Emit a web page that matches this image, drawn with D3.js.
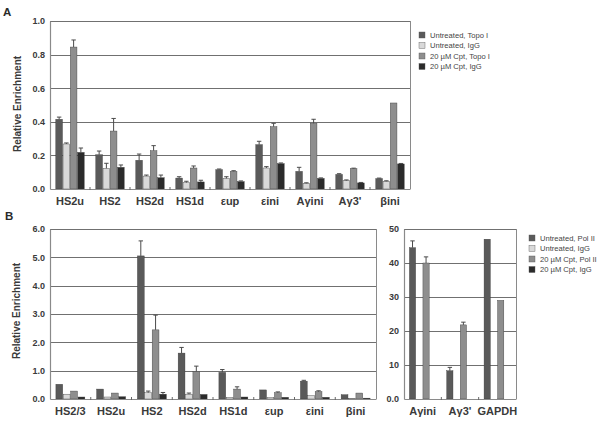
<!DOCTYPE html>
<html>
<head>
<meta charset="utf-8">
<script src="https://cdn.jsdelivr.net/npm/d3@7"></script>
<style>
  html, body { margin: 0; padding: 0; background: #fff; }
  svg { display: block; font-family: Arial, "Liberation Sans", sans-serif; }
</style>
</head>
<body>
<svg id="chart" width="600" height="425"></svg>
<script>
// ---------------- DATA ----------------
// Panel A
const categoriesA = ["HS2u", "HS2", "HS2d", "HS1d", "\u03b5up", "\u03b5ini", "A\u03b3ini", "A\u03b33'", "\u03b2ini"];
const seriesNamesA = ["Untreated, Topo I", "Untreated, IgG", "20 \u00b5M Cpt, Topo I", "20 \u00b5M Cpt, IgG"];
const untreatedTopoA = [0.415, 0.204, 0.171, 0.065, 0.115, 0.264, 0.105, 0.087, 0.062];
const untreatedIgGA  = [0.268, 0.123, 0.077, 0.038, 0.063, 0.125, 0.034, 0.050, 0.046];
const cptTopoA       = [0.845, 0.345, 0.228, 0.125, 0.105, 0.371, 0.391, 0.121, 0.512];
const cptIgGA        = [0.218, 0.129, 0.067, 0.042, 0.044, 0.151, 0.063, 0.036, 0.149];
const untreatedTopoErrA = [0.013, 0.022, 0.037, 0.008, 0.004, 0.020, 0.024, 0.004, 0.003];
const untreatedIgGErrA  = [0.006, 0.030, 0.006, 0.008, 0.010, 0.008, 0.003, 0.004, 0.003];
const cptTopoErrA       = [0.042, 0.075, 0.030, 0.012, 0.004, 0.020, 0.024, 0.003, 0.000];
const cptIgGErrA        = [0.026, 0.014, 0.016, 0.010, 0.004, 0.004, 0.003, 0.003, 0.003];
const yTicksA = [0, 0.2, 0.4, 0.6, 0.8, 1.0];

// Panel B (left)
const categoriesB = ["HS2/3", "HS2u", "HS2", "HS2d", "HS1d", "\u03b5up", "\u03b5ini", "\u03b2ini"];
const seriesNamesB = ["Untreated, Pol II", "Untreated, IgG", "20 \u00b5M Cpt, Pol II", "20 \u00b5M Cpt, IgG"];
const untreatedPolB = [0.52, 0.35, 5.05, 1.62, 0.94, 0.32, 0.63, 0.15];
const untreatedIgGB = [0.17, 0.07, 0.22, 0.17, 0.06, 0.05, 0.12, 0.02];
const cptPolB       = [0.28, 0.21, 2.44, 0.97, 0.35, 0.22, 0.26, 0.21];
const cptIgGB       = [0.07, 0.08, 0.17, 0.16, 0.07, 0.06, 0.06, 0.03];
const untreatedPolErrB = [0, 0, 0.53, 0.20, 0.10, 0, 0.03, 0];
const untreatedIgGErrB = [0, 0, 0.06, 0.04, 0, 0, 0, 0];
const cptPolErrB       = [0, 0, 0.52, 0.19, 0.08, 0.03, 0.03, 0];
const cptIgGErrB       = [0, 0, 0.06, 0, 0, 0, 0, 0];
const yTicksB = [0, 1, 2, 3, 4, 5, 6];

// Panel B (right)
const categoriesC = ["A\u03b3ini", "A\u03b33'", "GAPDH"];
const untreatedPolC = [44.5, 8.3, 47];
const untreatedIgGC = [0, 0, 0];
const cptPolC       = [40.0, 21.8, 29];
const cptIgGC       = [0, 0, 0];
const untreatedPolErrC = [2.0, 1.0, 0];
const untreatedIgGErrC = [0, 0, 0];
const cptPolErrC       = [1.8, 0.8, 0];
const cptIgGErrC       = [0, 0, 0];
const yTicksC = [0, 10, 20, 30, 40, 50];

const seriesColors = ["#5a5a5a", "#d9d9d9", "#8e8e8e", "#2b2b2b"];
const seriesKeys = ["s0", "s1", "s2", "s3"];

// ---------------- DRAWING ----------------
const svg = d3.select("#chart");

function buildRows(cats, vals, errs) {
  return cats.map((c, i) => ({
    cat: c,
    bars: seriesKeys.map((k, j) => ({ key: k, idx: j, v: vals[j][i], e: errs[j][i] }))
  }));
}

function drawPanel(opt) {
  const g = svg.append("g");
  const x = d3.scaleBand().domain(opt.cats).range([opt.x0, opt.x1]).paddingInner(0).paddingOuter(0);
  const bw = x.bandwidth();
  const pad = bw * 0.145;
  const xi = d3.scaleBand().domain(seriesKeys).range([pad, bw - pad]).paddingInner(0.08).paddingOuter(0);
  const y = d3.scaleLinear().domain(opt.domain).range([opt.y1, opt.y0]);

  // grid lines
  g.append("g").selectAll("line").data(opt.ticks.filter(t => t > opt.domain[0]))
    .join("line")
    .attr("x1", opt.x0).attr("x2", opt.x1)
    .attr("y1", d => Math.round(y(d)) + 0.5).attr("y2", d => Math.round(y(d)) + 0.5)
    .attr("stroke", "#707070").attr("stroke-width", 1.2);

  // right border
  g.append("line")
    .attr("x1", opt.x1 + 0.5).attr("x2", opt.x1 + 0.5)
    .attr("y1", y(opt.domain[1])).attr("y2", y(opt.domain[0]))
    .attr("stroke", "#8a8a8a").attr("stroke-width", 1);

  const rows = buildRows(opt.cats, opt.vals, opt.errs);
  const groups = g.append("g").selectAll("g").data(rows).join("g")
    .attr("transform", d => `translate(${x(d.cat)},0)`);

  groups.selectAll("rect").data(d => d.bars.filter(b => b.v > 0)).join("rect")
    .attr("x", b => xi(b.key))
    .attr("width", xi.bandwidth())
    .attr("y", b => y(b.v))
    .attr("height", b => y(0) - y(b.v))
    .attr("fill", b => seriesColors[b.idx])
    .attr("stroke", "#3a3a3a").attr("stroke-width", 0.4);

  // error bars (upper only)
  const eb = groups.selectAll("g.err").data(d => d.bars.filter(b => b.v > 0 && b.e > 0)).join("g").attr("class", "err");
  eb.append("line")
    .attr("x1", b => xi(b.key) + xi.bandwidth() / 2).attr("x2", b => xi(b.key) + xi.bandwidth() / 2)
    .attr("y1", b => y(b.v)).attr("y2", b => y(b.v + b.e))
    .attr("stroke", "#4a4a4a").attr("stroke-width", 1);
  eb.append("line")
    .attr("x1", b => xi(b.key) + xi.bandwidth() / 2 - 2.2).attr("x2", b => xi(b.key) + xi.bandwidth() / 2 + 2.2)
    .attr("y1", b => y(b.v + b.e)).attr("y2", b => y(b.v + b.e))
    .attr("stroke", "#4a4a4a").attr("stroke-width", 1);

  // y axis
  const yAxis = d3.axisLeft(y).tickValues(opt.ticks).tickSize(0).tickPadding(5).tickFormat(opt.fmt);
  const ya = g.append("g").attr("transform", `translate(${opt.x0},0)`).call(yAxis);
  ya.select(".domain").attr("stroke", "#8a8a8a").attr("stroke-width", 1.2);
  ya.selectAll("text").attr("font-size", 9).attr("font-weight", "bold").attr("fill", "#3a3a3a")
    .attr("font-family", "Arial, 'Liberation Sans', sans-serif");

  // x axis
  const xAxis = d3.axisBottom(x).tickSize(0).tickPadding(opt.labelPad);
  const xa = g.append("g").attr("transform", `translate(0,${opt.y1})`).call(xAxis);
  xa.select(".domain").attr("stroke", "#8a8a8a").attr("stroke-width", 1.2);
  xa.selectAll("text").attr("font-size", 11).attr("font-weight", "bold").attr("fill", "#3a3a3a")
    .attr("font-family", "Arial, 'Liberation Sans', sans-serif");
  // small tick marks between categories
  g.append("g").selectAll("line").data(opt.cats.slice(1)).join("line")
    .attr("x1", d => x(d)).attr("x2", d => x(d))
    .attr("y1", opt.y1 - 2).attr("y2", opt.y1 + 1)
    .attr("stroke", "#666").attr("stroke-width", 1);
  return { x, y };
}

function drawLegend(x0, ys, names) {
  const lg = svg.append("g");
  const items = lg.selectAll("g").data(names).join("g")
    .attr("transform", (d, i) => `translate(${x0},${ys[i]})`);
  items.append("rect").attr("x", 0).attr("y", -3).attr("width", 6).attr("height", 6)
    .attr("fill", (d, i) => seriesColors[i]).attr("stroke", "#555").attr("stroke-width", 0.4);
  items.append("text").attr("x", 11).attr("y", 2.8).text(d => d)
    .attr("font-size", 7.6).attr("fill", "#444");
}

function yLabel(cx, cy) {
  svg.append("text").attr("transform", `translate(${cx},${cy}) rotate(-90)`)
    .attr("text-anchor", "middle").attr("font-size", 10).attr("font-weight", "bold")
    .attr("fill", "#3a3a3a").text("Relative Enrichment");
}

// Panel A
drawPanel({
  cats: categoriesA, x0: 50, x1: 410, y0: 21, y1: 189, domain: [0, 1], ticks: yTicksA,
  fmt: d3.format(".1f"), labelPad: 8,
  vals: [untreatedTopoA, untreatedIgGA, cptTopoA, cptIgGA],
  errs: [untreatedTopoErrA, untreatedIgGErrA, cptTopoErrA, cptIgGErrA]
});
drawLegend(419, [35, 45.5, 56, 66.5], seriesNamesA);
yLabel(21, 104);
svg.append("text").attr("x", 3).attr("y", 16).attr("font-size", 11.5).attr("font-weight", "bold")
  .attr("fill", "#2a2a2a").text("A");

// Panel B left
drawPanel({
  cats: categoriesB, x0: 50, x1: 376, y0: 229, y1: 399, domain: [0, 6], ticks: yTicksB,
  fmt: d3.format(".1f"), labelPad: 8,
  vals: [untreatedPolB, untreatedIgGB, cptPolB, cptIgGB],
  errs: [untreatedPolErrB, untreatedIgGErrB, cptPolErrB, cptIgGErrB]
});
// Panel B right
drawPanel({
  cats: categoriesC, x0: 404, x1: 516, y0: 229, y1: 399, domain: [0, 50], ticks: yTicksC,
  fmt: d => d === 0 ? "0.0" : d3.format("d")(d), labelPad: 8,
  vals: [untreatedPolC, untreatedIgGC, cptPolC, cptIgGC],
  errs: [untreatedPolErrC, untreatedIgGErrC, cptPolErrC, cptIgGErrC]
});
drawLegend(529, [238, 248.5, 259, 269.5], seriesNamesB);
yLabel(20, 311);
svg.append("text").attr("x", 5).attr("y", 220).attr("font-size", 11.5).attr("font-weight", "bold")
  .attr("fill", "#2a2a2a").text("B");
</script>
</body>
</html>
